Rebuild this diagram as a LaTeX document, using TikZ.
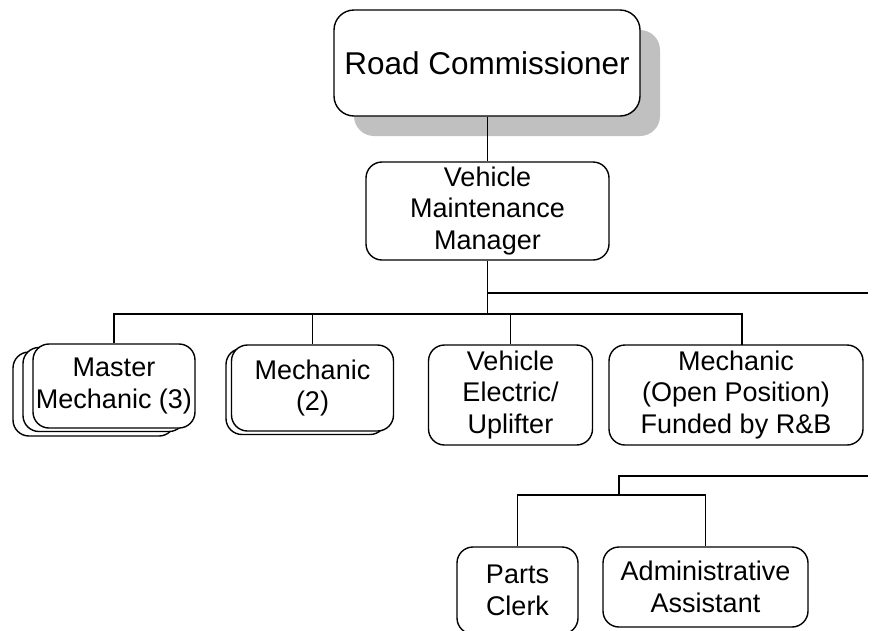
\documentclass[tikz,border=0pt]{standalone}
\usepackage{fontspec}
\setmainfont{Liberation Sans}
\usetikzlibrary{shadows}
\definecolor{shadowgray}{RGB}{192,192,192}
\begin{document}
\begin{tikzpicture}[x=1pt,y=-1pt,
  box/.style={draw=black,fill=white,line width=1.4pt,rounded corners=16pt,
    align=center,inner sep=0pt,font=\fontsize{27}{31.5}\selectfont},
  link/.style={line width=1.4pt}]
\useasboundingbox (0,0) rectangle (873,630);

% top of the chart
\node[box,rounded corners=20pt,minimum width=306pt,minimum height=106pt,
  font=\fontsize{31.5}{38}\selectfont,
  general shadow={fill=shadowgray,shadow xshift=20pt,shadow yshift=-20pt}]
  (rc) at (487,63) {Road Commissioner};
\node[box,minimum width=243pt,minimum height=98pt] (vmm) at (487.5,211)
  {Vehicle\\Maintenance\\Manager};

% staff reporting to the manager
\node[box,minimum width=162pt,minimum height=84pt] (mm3) at (94,394) {};
\node[box,minimum width=162pt,minimum height=84pt] (mm2) at (104,389.5) {};
\node[box,minimum width=162pt,minimum height=84pt] (mm1) at (114,386) {Master\\Mechanic (3)};
\node[box,minimum width=160pt,minimum height=86pt] (me2) at (306,391.5) {};
\node[box,minimum width=162pt,minimum height=86pt] (me1) at (312.5,388) {Mechanic\\(2)};
\node[box,minimum width=164pt,minimum height=100pt] (veu) at (510.5,395) {Vehicle\\Electric/\\Uplifter};
\node[box,minimum width=254pt,minimum height=100pt] (mop) at (736,395)
  {Mechanic\\(Open Position)\\Funded by R\&B};

% support staff
\node[box,minimum width=121pt,minimum height=87pt] (pc) at (517.5,590.5) {Parts\\Clerk};
\node[box,minimum width=205pt,minimum height=80pt] (aa) at (705.5,587) {Administrative\\Assistant};

% connector junctions
\coordinate (j1) at (487.5,293);
\coordinate (e1) at (868,293);
\coordinate (j2) at (487.5,314);
\coordinate (t4) at (742,345);
\coordinate (e2) at (868,476);
\coordinate (k1) at (619,476);
\coordinate (k2) at (619,495);

\draw[link] (rc.south -| vmm.north) -- (vmm.north);
\draw[link] (vmm.south) -- (j2);
\draw[link] (j1) -- (e1);
\draw[link] (j2) -| (mm1.north);
\draw[link] (j2) -| (me1.north);
\draw[link] (j2) -| (veu.north);
\draw[link] (j2) -| (t4);
\draw[link] (e2) -- (k1) -- (k2);
\draw[link] (k2) -| (pc.north);
\draw[link] (k2) -| (aa.north);
\end{tikzpicture}
\end{document}
